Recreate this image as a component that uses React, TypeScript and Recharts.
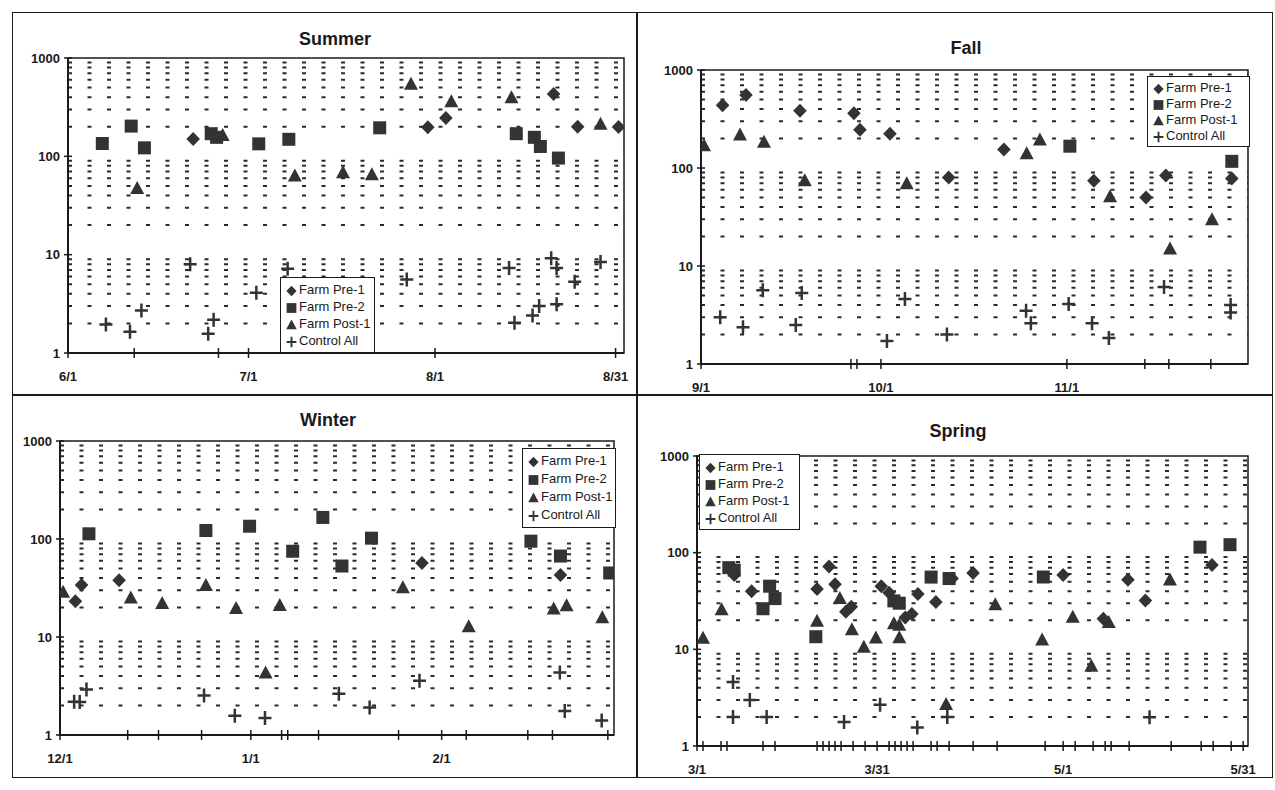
import React from 'react'
import { ScatterChart, Scatter, XAxis, YAxis, ReferenceLine, ReferenceArea, Legend } from 'recharts'

type Pt = [number, number] // [days since start of season, count]

// Summer, days since 6/1
const SUMMER_PRE1: Pt[] = [[20.8, 150], [59.8, 198], [62.8, 246], [80.7, 430], [84.7, 200], [91.5, 199]]
const SUMMER_PRE2: Pt[] = [[5.7, 135], [10.5, 203], [12.7, 122], [23.8, 170], [24.7, 156], [31.7, 134], [36.7, 149], [51.8, 195], [74.5, 170], [77.5, 156], [78.5, 126], [81.5, 96]]
const SUMMER_POST1: Pt[] = [[11.5, 47], [25.7, 163], [37.7, 63], [45.7, 68], [50.5, 65], [57, 540], [63.7, 360], [73.7, 395], [88.5, 212]]
const SUMMER_CTRL: Pt[] = [[6.3, 1.95], [10.3, 1.64], [12.2, 2.7], [20.3, 8.0], [23.3, 1.57], [24.2, 2.18], [31.3, 4.1], [36.5, 7.2], [56.3, 5.6], [73.3, 7.3], [74.2, 2.03], [77.2, 2.41], [78.3, 3.0], [80.3, 9.2], [81.2, 7.3], [81.2, 3.14], [84.2, 5.3], [88.5, 8.4]]

// Fall, days since 9/1
const FALL_PRE1: Pt[] = [[3.6, 436], [7.5, 556], [16.5, 384], [25.5, 362], [26.5, 246], [31.5, 224], [41.3, 80], [50.5, 154], [65.5, 74], [74.2, 50], [77.5, 84], [88.5, 78]]
const FALL_PRE2: Pt[] = [[61.5, 167], [88.5, 117]]
const FALL_POST1: Pt[] = [[0.5, 169], [6.5, 217], [10.5, 183], [17.3, 74], [34.3, 69], [54.3, 140], [56.5, 193], [68.2, 51], [78.2, 14.9], [85.2, 29.7]]
const FALL_CTRL: Pt[] = [[3.2, 3.0], [7, 2.37], [10.3, 5.65], [15.8, 2.5], [16.8, 5.3], [31, 1.72], [34, 4.6], [41, 2.0], [54.2, 3.5], [55, 2.6], [61.3, 4.1], [65.2, 2.6], [68, 1.84], [77.2, 6.1], [88.3, 4.0], [88.3, 3.35]]

// Winter, days since 12/1
const WINTER_PRE1: Pt[] = [[2.5, 23.2], [3.5, 34], [9.6, 38], [58.8, 57], [81.3, 43]]
const WINTER_PRE2: Pt[] = [[4.7, 113], [23.7, 122], [30.8, 135], [37.8, 75], [42.7, 166], [45.8, 53], [50.6, 102], [76.5, 95], [81.3, 67], [89.3, 45]]
const WINTER_POST1: Pt[] = [[0.5, 28.6], [11.5, 25], [16.6, 22], [23.7, 33.5], [28.6, 19.5], [33.4, 4.3], [35.7, 21], [55.7, 31.8], [66.4, 12.7], [80.2, 19.3], [82.3, 20.8], [88.1, 15.7]]
const WINTER_CTRL: Pt[] = [[2.3, 2.18], [3.2, 2.17], [4.3, 2.92], [23.4, 2.53], [28.4, 1.57], [33.3, 1.49], [45.3, 2.63], [50.3, 1.91], [58.4, 3.57], [81.2, 4.35], [82, 1.76], [88, 1.41]]

// Spring, days since 3/1
const SPRING_PRE1: Pt[] = [[6.2, 58.6], [9.1, 40], [20, 42], [22, 72], [23, 47], [24.8, 24.5], [25.7, 27.6], [30.7, 45], [32, 38.5], [34.7, 21.3], [35.8, 23.2], [36.8, 37.4], [39.8, 30.8], [42.5, 54], [46, 61.6], [61, 58.7], [67.7, 20.7], [71.8, 52.6], [74.7, 32], [85.8, 74.6]]
const SPRING_PRE2: Pt[] = [[5.3, 70], [6.2, 66], [11, 26.3], [12.1, 45], [13, 33.5], [19.8, 13.5], [32.8, 31.7], [33.7, 30], [39, 55.9], [42, 54], [57.7, 56], [83.8, 114], [88.8, 121]]
const SPRING_POST1: Pt[] = [[1, 13], [4.1, 25.7], [20, 19.5], [23.8, 33.5], [25.8, 15.9], [27.8, 10.5], [29.8, 13.1], [32.8, 18.4], [33.7, 17.7], [33.7, 13.2], [41.5, 2.68], [49.7, 29], [57.5, 12.5], [62.6, 21.5], [65.7, 6.7], [68.6, 18.9], [78.8, 52]]
const SPRING_CTRL: Pt[] = [[6, 4.6], [6, 2.0], [8.8, 3.0], [11.6, 2.0], [24.5, 1.77], [30.5, 2.67], [36.7, 1.55], [41.7, 2.0], [75.4, 1.98]]

// x tick positions (days) and the dates printed under some of them
const SUMMER_TICKS = [0, 11, 25, 30, 61, 91]
const SUMMER_LABELS: Record<number, string> = { 0: '6/1', 30: '7/1', 61: '8/1', 91: '8/31' }
const FALL_TICKS = [0, 25, 26, 30, 61, 74, 78, 85]
const FALL_LABELS: Record<number, string> = { 0: '9/1', 30: '10/1', 61: '11/1' }
const WINTER_TICKS = [0, 11, 16, 23, 31, 36, 37, 42, 55, 62, 66, 76, 80, 89]
const WINTER_LABELS: Record<number, string> = { 0: '12/1', 31: '1/1', 62: '2/1' }
const SPRING_TICKS = [0, 1, 4, 5, 11, 13, 20, 21, 22, 23, 24, 26, 28, 30, 32, 33, 34, 35, 36, 39, 40, 42, 46, 50, 58, 61, 63, 66, 68, 69, 72, 79, 84, 86, 89, 91]
const SPRING_LABELS: Record<number, string> = { 0: '3/1', 30: '3/31', 61: '5/1', 91: '5/31' }

const Y_TICKS = [1, 10, 100, 1000]
const MINOR_GRID = [2, 3, 4, 5, 6, 7, 8, 9, 20, 30, 40, 50, 60, 70, 80, 90, 200, 300, 400, 500, 600, 700, 800, 900]

const SERIES_NAMES = ['Farm Pre-1', 'Farm Pre-2', 'Farm Post-1', 'Control All']
const SERIES_KINDS = ['diamond', 'square', 'triangle', 'plus']

const FONT = 'Arial, "Liberation Sans", Helvetica, sans-serif'
const INK = '#1a1a1a'
const MARK = '#333'

type Box = { left: number; top: number; right: number; bottom: number }
type PanelCfg = {
  title: string
  titleX: number
  titleY: number
  plot: Box
  domain: [number, number]
  ticks: number[]
  labels: Record<number, string>
  series: Pt[][]
  legend: { left: number; top: number; width: number; height: number }
}

const PANELS: PanelCfg[] = [
  {
    title: 'Summer', titleX: 335, titleY: 40,
    plot: { left: 68, top: 58, right: 624, bottom: 353 },
    domain: [0, 92.4], ticks: SUMMER_TICKS, labels: SUMMER_LABELS,
    series: [SUMMER_PRE1, SUMMER_PRE2, SUMMER_POST1, SUMMER_CTRL],
    legend: { left: 280, top: 277, width: 95, height: 76 },
  },
  {
    title: 'Fall', titleX: 966, titleY: 49,
    plot: { left: 701, top: 70, right: 1248, bottom: 364 },
    domain: [0, 91.2], ticks: FALL_TICKS, labels: FALL_LABELS,
    series: [FALL_PRE1, FALL_PRE2, FALL_POST1, FALL_CTRL],
    legend: { left: 1147, top: 76, width: 103, height: 71 },
  },
  {
    title: 'Winter', titleX: 328, titleY: 421,
    plot: { left: 60, top: 441, right: 614, bottom: 735 },
    domain: [0, 90], ticks: WINTER_TICKS, labels: WINTER_LABELS,
    series: [WINTER_PRE1, WINTER_PRE2, WINTER_POST1, WINTER_CTRL],
    legend: { left: 522, top: 448, width: 94, height: 80 },
  },
  {
    title: 'Spring', titleX: 958, titleY: 432,
    plot: { left: 697, top: 456, right: 1248, bottom: 746 },
    domain: [0, 91.8], ticks: SPRING_TICKS, labels: SPRING_LABELS,
    series: [SPRING_PRE1, SPRING_PRE2, SPRING_POST1, SPRING_CTRL],
    legend: { left: 699, top: 454, width: 101, height: 76 },
  },
]

function Marker({ kind, cx, cy }: { kind: string; cx: number; cy: number }) {
  if (kind === 'diamond') {
    return <path d={`M${cx},${cy - 7}L${cx + 6.8},${cy}L${cx},${cy + 7}L${cx - 6.8},${cy}Z`} fill={MARK} />
  }
  if (kind === 'square') {
    return <rect x={cx - 6.5} y={cy - 6.5} width={13} height={13} fill={MARK} />
  }
  if (kind === 'triangle') {
    return <path d={`M${cx},${cy - 7.5}L${cx + 7},${cy + 5.5}L${cx - 7},${cy + 5.5}Z`} fill={MARK} />
  }
  return <path d={`M${cx - 6.5},${cy}H${cx + 6.5}M${cx},${cy - 7}V${cy + 7}`} stroke={MARK} strokeWidth={2.5} />
}

function LegendBox({ width, height }: { width: number; height: number }) {
  return (
    <div style={{
      width, height, boxSizing: 'border-box',
      border: `1.5px solid ${INK}`, background: '#fff',
      padding: '3px 3px', fontFamily: FONT, fontSize: 13, color: INK,
      display: 'flex', flexDirection: 'column', justifyContent: 'space-around',
    }}>
      {SERIES_NAMES.map((name, i) => (
        <div key={name} style={{ display: 'flex', alignItems: 'center', whiteSpace: 'nowrap', lineHeight: '16px' }}>
          <svg width={13} height={14} style={{ marginRight: 2, flex: 'none' }}>
            <g transform="translate(1.5,2) scale(0.75)">
              <Marker kind={SERIES_KINDS[i]} cx={8} cy={8} />
            </g>
          </svg>
          <span>{name}</span>
        </div>
      ))}
    </div>
  )
}

function SeasonPanel({ cfg }: { cfg: PanelCfg }) {
  const { plot } = cfg
  const chartLeft = plot.left - 60
  const chartTop = plot.top - 10
  const width = plot.right - plot.left + 80
  const height = plot.bottom - plot.top + 50

  const dateTick = (props: any) => {
    const { x, y, payload } = props
    const label = cfg.labels[payload.value]
    return (
      <g>
        <line x1={x} x2={x} y1={y - 5} y2={y + 5} stroke={INK} strokeWidth={1.5} />
        {label && (
          <text x={x} y={y + 28} textAnchor="middle" fontFamily={FONT} fontSize={13} fontWeight="bold" fill={INK}>
            {label}
          </text>
        )}
      </g>
    )
  }

  const countTick = (props: any) => {
    const { x, y, payload } = props
    return (
      <g>
        <line x1={x - 4} x2={x + 4} y1={y} y2={y} stroke={INK} strokeWidth={1.5} />
        <text x={x - 8} y={y} dy="0.35em" textAnchor="end" fontFamily={FONT} fontSize={13} fontWeight="bold" fill={INK}>
          {payload.value}
        </text>
      </g>
    )
  }

  return (
    <>
      <div style={{
        position: 'absolute', left: cfg.titleX, top: cfg.titleY - 11, transform: 'translateX(-50%)',
        fontFamily: FONT, fontWeight: 'bold', fontSize: 18, color: INK, whiteSpace: 'nowrap',
      }}>
        {cfg.title}
      </div>
      <div style={{ position: 'absolute', left: chartLeft, top: chartTop }}>
        <ScatterChart width={width} height={height} margin={{ top: 10, right: 20, bottom: 10, left: 10 }}>
          <XAxis
            type="number"
            dataKey="d"
            domain={cfg.domain}
            ticks={cfg.ticks}
            interval={0}
            allowDataOverflow
            height={30}
            tickSize={0}
            tickMargin={0}
            tickLine={false}
            axisLine={{ stroke: INK, strokeWidth: 2 }}
            tick={dateTick}
          />
          <YAxis
            type="number"
            dataKey="v"
            scale="log"
            domain={[1, 1000]}
            ticks={Y_TICKS}
            interval={0}
            allowDataOverflow
            width={50}
            tickSize={0}
            tickMargin={0}
            tickLine={false}
            axisLine={{ stroke: INK, strokeWidth: 2 }}
            tick={countTick}
          />
          {MINOR_GRID.map(v => (
            <ReferenceLine key={v} y={v} stroke="#2a2a2a" strokeWidth={2} strokeDasharray="4 15.5" />
          ))}
          <ReferenceArea x1={cfg.domain[0]} x2={cfg.domain[1]} y1={1} y2={1000} fill="none" stroke={INK} strokeWidth={1.5} />
          {cfg.series.map((pts, i) => (
            <Scatter
              key={SERIES_NAMES[i]}
              name={SERIES_NAMES[i]}
              data={pts.map(([d, v]) => ({ d, v }))}
              isAnimationActive={false}
              shape={(p: any) => <Marker kind={SERIES_KINDS[i]} cx={p.cx} cy={p.cy} />}
            />
          ))}
          <Legend
            layout="horizontal"
            verticalAlign="middle"
            align="center"
            wrapperStyle={{
              left: cfg.legend.left - chartLeft,
              top: cfg.legend.top - chartTop,
              width: cfg.legend.width,
              height: cfg.legend.height,
            }}
            content={() => <LegendBox width={cfg.legend.width} height={cfg.legend.height} />}
          />
        </ScatterChart>
      </div>
    </>
  )
}

export default function App() {
  return (
    <div style={{ position: 'absolute', left: 0, top: 0, width: 1275, height: 790, background: '#fff' }}>
      {/* page frame split into four season panels */}
      <div style={{ position: 'absolute', left: 12, top: 12, width: 1261, height: 766, border: `1.5px solid ${INK}`, boxSizing: 'border-box' }} />
      <div style={{ position: 'absolute', left: 636, top: 12, width: 1.5, height: 766, background: INK }} />
      <div style={{ position: 'absolute', left: 12, top: 394, width: 1261, height: 1.5, background: INK }} />
      {PANELS.map(cfg => <SeasonPanel key={cfg.title} cfg={cfg} />)}
    </div>
  )
}
